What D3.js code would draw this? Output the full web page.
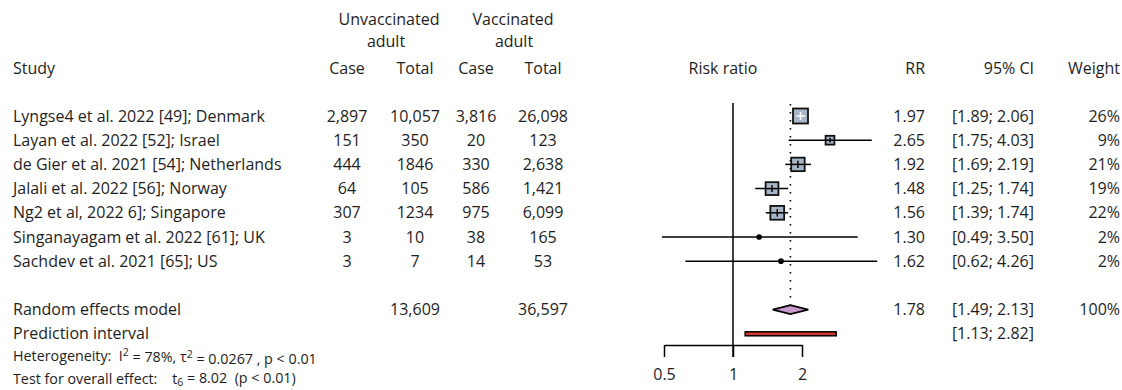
<!DOCTYPE html>
<html>
<head>
<meta charset="utf-8">
<script src="https://cdn.jsdelivr.net/npm/d3@7"></script>
<style>
  html, body { margin: 0; padding: 0; background: #fff; }
  svg { display: block; }
  text { font-family: "Open Sans", "Noto Sans", sans-serif; fill: #1e1e1e; white-space: pre; }
</style>
</head>
<body>
<svg id="chart" width="1122" height="390"></svg>
<script>
// Study rows
const studies = [
  "Lyngse4 et al. 2022 [49]; Denmark",
  "Layan et al. 2022 [52]; Israel",
  "de Gier et al. 2021 [54]; Netherlands",
  "Jalali et al. 2022 [56]; Norway",
  "Ng2 et al, 2022 6]; Singapore",
  "Singanayagam et al. 2022 [61]; UK",
  "Sachdev et al. 2021 [65]; US"
];
const unvacCase  = ["2,897", "151", "444", "64", "307", "3", "3"];
const unvacTotal = ["10,057", "350", "1846", "105", "1234", "10", "7"];
const vacCase    = ["3,816", "20", "330", "586", "975", "38", "14"];
const vacTotal   = ["26,098", "123", "2,638", "1,421", "6,099", "165", "53"];
const rr     = [1.97, 2.65, 1.92, 1.48, 1.56, 1.30, 1.62];
const ciLow  = [1.89, 1.75, 1.69, 1.25, 1.39, 0.49, 0.62];
const ciHigh = [2.06, 4.03, 2.19, 1.74, 1.74, 3.50, 4.26];
const weight = [26, 9, 21, 19, 22, 2, 2];

// Pooled estimate and prediction interval
const pooledLabel = "Random effects model";
const pooledTotals = ["13,609", "36,597"];
const pooledRR = [1.78];
const pooledCI = [1.49, 2.13];
const pooledWeight = ["100%"];
const predLabel = "Prediction interval";
const predCI = [1.13, 2.82];

const axisTicks = [0.5, 1, 2];

const svg = d3.select("#chart");
const fmt2 = d3.format(".2f");

const x = d3.scaleLog().domain([0.5, 2]).range([664, 802]);
const rowY = i => 116 + 24.2 * i;
const yPooled = rowY(8);
const yPred = rowY(9);
const axisY = 345;
const boxSize = d3.scaleSqrt().domain([0, 26]).range([0, 15]);

const FS = "16px";
const FS_SMALL = "14.3px";

// Column positions
const col = { study: 13, uCase: 347, uTotal: 415, vCase: 476, vTotal: 543, rr: 925, ci: 1034, w: 1120 };

function txt(xp, yp, s, anchor, size) {
  return svg.append("text")
    .attr("x", xp).attr("y", yp)
    .attr("dy", "0.35em")
    .attr("text-anchor", anchor || "start")
    .style("font-size", size || FS)
    .text(s);
}

// Header
txt(389, 19.5, "Unvaccinated", "middle");
txt(386, 41.5, "adult", "middle");
txt(513, 19.5, "Vaccinated", "middle");
txt(514, 41.5, "adult", "middle");
txt(col.study, 68, "Study");
txt(col.uCase, 68, "Case", "middle");
txt(col.uTotal, 68, "Total", "middle");
txt(col.vCase, 68, "Case", "middle");
txt(col.vTotal, 68, "Total", "middle");
txt(723, 68, "Risk ratio", "middle");
txt(col.rr, 68, "RR", "end");
txt(col.ci, 68, "95% CI", "end");
txt(col.w, 68, "Weight", "end");

// Study text columns
studies.forEach((s, i) => {
  const y = rowY(i);
  txt(col.study, y, s);
  txt(col.uCase, y, unvacCase[i], "middle");
  txt(col.uTotal, y, unvacTotal[i], "middle");
  txt(col.vCase, y, vacCase[i], "middle");
  txt(col.vTotal, y, vacTotal[i], "middle");
  txt(col.rr, y, fmt2(rr[i]), "end");
  txt(col.ci, y, "[" + fmt2(ciLow[i]) + "; " + fmt2(ciHigh[i]) + "]", "end");
  txt(col.w, y, weight[i] + "%", "end");
});

// Pooled rows text
txt(col.study, yPooled, pooledLabel);
txt(col.uTotal, yPooled, pooledTotals[0], "middle");
txt(col.vTotal, yPooled, pooledTotals[1], "middle");
txt(col.rr, yPooled, fmt2(pooledRR[0]), "end");
txt(col.ci, yPooled, "[" + fmt2(pooledCI[0]) + "; " + fmt2(pooledCI[1]) + "]", "end");
txt(col.w, yPooled, pooledWeight[0], "end");
txt(col.study, yPred, predLabel);
txt(col.ci, yPred, "[" + fmt2(predCI[0]) + "; " + fmt2(predCI[1]) + "]", "end");

// Heterogeneity and overall test
const het = svg.append("text").attr("x", col.study).attr("y", 355.5).attr("dy", "0.35em").style("font-size", FS_SMALL);
het.append("tspan").text("Heterogeneity:  I");
het.append("tspan").attr("dy", "-0.4em").style("font-size", "10.5px").text("2");
het.append("tspan").attr("dy", "0.4em").text(" = 78%, \u03C4");
het.append("tspan").attr("dy", "-0.4em").style("font-size", "10.5px").text("2");
het.append("tspan").attr("dy", "0.4em").text(" = 0.0267 , p < 0.01");

const tst = svg.append("text").attr("x", col.study).attr("y", 378.5).attr("dy", "0.35em").style("font-size", FS_SMALL);
tst.append("tspan").text("Test for overall effect:    t");
tst.append("tspan").attr("dy", "0.25em").style("font-size", "10.5px").text("6");
tst.append("tspan").attr("dy", "-0.25em").text(" = 8.02  (p < 0.01)");

// Null line at RR = 1
svg.append("line")
  .attr("x1", x(1)).attr("x2", x(1))
  .attr("y1", 103).attr("y2", 357)
  .attr("stroke", "#000").attr("stroke-width", 1.5);

// Dotted reference at the pooled estimate
svg.append("line")
  .attr("x1", x(pooledRR[0])).attr("x2", x(pooledRR[0]))
  .attr("y1", 104).attr("y2", yPooled - 5)
  .attr("stroke", "#000").attr("stroke-width", 1.6)
  .attr("stroke-dasharray", "1.6,6.4");

// Study markers
const g = svg.append("g");
studies.forEach((s, i) => {
  const y = rowY(i);
  const cx = x(rr[i]);
  const side = boxSize(weight[i]);
  const lo = x(ciLow[i]), hi = x(ciHigh[i]);
  const inside = lo >= cx - side / 2 && hi <= cx + side / 2;
  if (!inside) {
    g.append("line").attr("x1", lo).attr("x2", hi).attr("y1", y).attr("y2", y)
      .attr("stroke", "#000").attr("stroke-width", 1.5);
  }
  if (weight[i] < 5) {
    g.append("rect")
      .attr("x", cx - side / 2).attr("y", y - side / 2)
      .attr("width", side).attr("height", side)
      .attr("rx", side / 2)
      .attr("fill", "#000").attr("stroke", "#000").attr("stroke-width", 1.5);
    return;
  }
  g.append("rect")
    .attr("x", cx - side / 2).attr("y", y - side / 2)
    .attr("width", side).attr("height", side)
    .attr("fill", "#a7b6c6").attr("stroke", "#111").attr("stroke-width", 1.8);
  const c = inside ? "#fff" : "#000";
  const l2 = Math.max(lo, cx - side / 2), h2 = Math.min(hi, cx + side / 2);
  g.append("line").attr("x1", l2).attr("x2", h2).attr("y1", y).attr("y2", y)
    .attr("stroke", c).attr("stroke-width", 1.5);
  g.append("line").attr("x1", cx).attr("x2", cx)
    .attr("y1", y - side * 0.27).attr("y2", y + side * 0.27)
    .attr("stroke", c).attr("stroke-width", 1.5);
});

// Pooled diamond
const dh = 4.5;
svg.append("polygon")
  .attr("points", [
    [x(pooledCI[0]), yPooled],
    [x(pooledRR[0]), yPooled - dh],
    [x(pooledCI[1]), yPooled],
    [x(pooledRR[0]), yPooled + dh]
  ].map(p => p.join(",")).join(" "))
  .attr("fill", "#c79ac9").attr("stroke", "#000").attr("stroke-width", 1.8)
  .attr("stroke-linejoin", "miter");

// Prediction interval bar
svg.append("rect")
  .attr("x", x(predCI[0])).attr("y", yPred - 2)
  .attr("width", x(predCI[1]) - x(predCI[0])).attr("height", 4)
  .attr("fill", "#d23a2e").attr("stroke", "#000").attr("stroke-width", 1.5);

// Axis
const axis = d3.axisBottom(x).tickValues(axisTicks).tickFormat(d3.format("")).tickSize(12).tickSizeOuter(0);
const ax = svg.append("g").attr("transform", `translate(0,${axisY})`).call(axis);
ax.select(".domain").attr("stroke", "#000").attr("stroke-width", 1.5);
ax.selectAll(".tick line").attr("stroke", "#000").attr("stroke-width", 1.5);
ax.selectAll(".tick text")
  .attr("y", 35).attr("dy", "0")
  .style("font-size", FS).style("font-family", "'Open Sans', 'Noto Sans', sans-serif").attr("fill", "#1e1e1e");
</script>
</body>
</html>
